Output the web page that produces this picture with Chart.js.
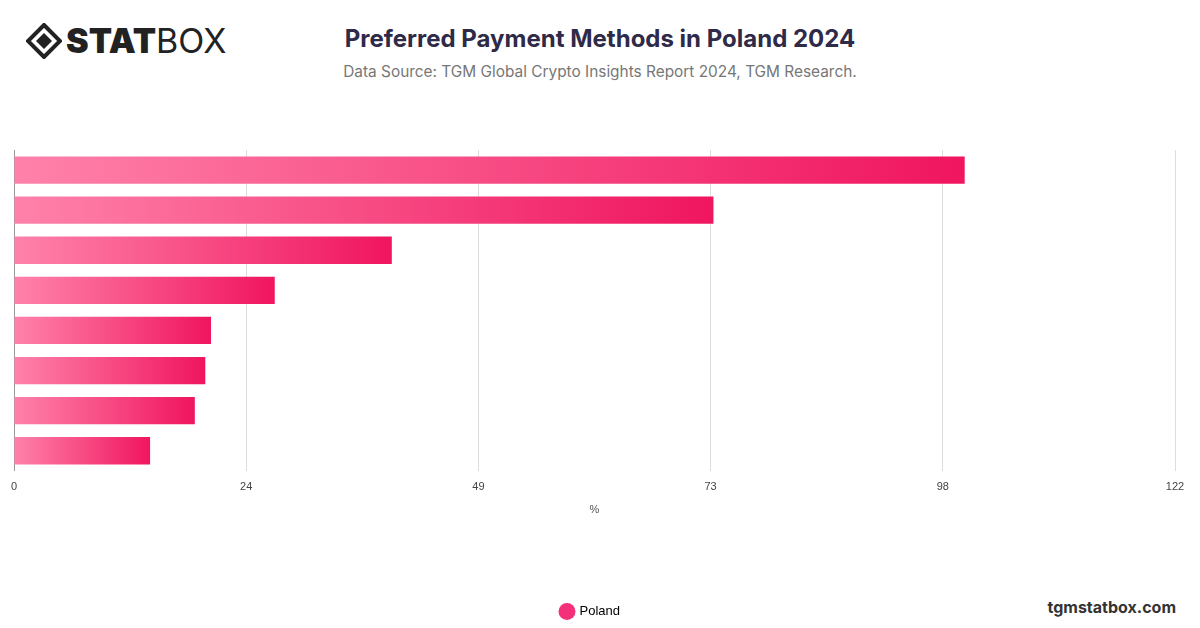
<!DOCTYPE html>
<html><head><meta charset="utf-8">
<script src="https://cdn.jsdelivr.net/npm/chart.js@4"></script>
<style>
body{margin:0;width:1200px;height:628px;background:#fff;font-family:Inter,"Open Sans",sans-serif;position:relative;overflow:hidden}
#logo{position:absolute;left:26px;top:20px;font-size:34px;color:#222;letter-spacing:0px;display:flex;align-items:center}
#title{position:absolute;left:0;width:1200px;top:24px;text-align:center;font-size:24px;font-weight:700;color:#2e2a48}
#sub{position:absolute;left:0;width:1200px;top:62px;text-align:center;font-size:15.4px;color:#777}
#site{position:absolute;right:24px;top:597px;font-size:16px;font-weight:700;color:#333}
#wrap{position:absolute;left:0;top:130px;width:1200px;height:498px}
</style></head><body>
<div id="logo"><svg width="36" height="36" viewBox="0 0 36 36"><path d="M18 2 L34 18 L18 34 L2 18 Z" fill="none" stroke="#222" stroke-width="4"/><path d="M18 10 L26 18 L18 26 L10 18 Z" fill="#222"/></svg><span style="font-weight:900;margin-left:4px">STAT</span><span style="font-weight:400">BOX</span></div>
<div id="title">Preferred Payment Methods in Poland 2024</div>
<div id="sub">Data Source: TGM Global Crypto Insights Report 2024, TGM Research.</div>
<div id="site">tgmstatbox.com</div>
<div id="wrap"><canvas id="c"></canvas></div>
<script>
const categories = ['Method 1','Method 2','Method 3','Method 4','Method 5','Method 6','Method 7','Method 8'];
const values = [99.9, 73.5, 39.7, 27.4, 20.7, 20.1, 19.0, 14.3];
const tickValues = [0, 24.4, 48.8, 73.2, 97.6, 122];

function barFill(ctx) {
  const chart = ctx.chart;
  if (!chart.chartArea || !chart.scales.x) return '#f5226a';
  const x0 = chart.scales.x.getPixelForValue(0);
  const x1 = chart.scales.x.getPixelForValue(ctx.raw);
  const g = chart.ctx.createLinearGradient(x0, 0, x1, 0);
  g.addColorStop(0, '#ff82aa');
  g.addColorStop(1, '#f0155f');
  return g;
}

new Chart(document.getElementById('c'), {
  type: 'bar',
  data: {
    labels: categories,
    datasets: [{ label: 'Poland', data: values, backgroundColor: barFill,
      barPercentage: 0.68, categoryPercentage: 1 }]
  },
  options: {
    indexAxis: 'y', responsive: true, maintainAspectRatio: false, animation: false,
    layout: { padding: { left: 6, right: 25, top: 20, bottom: 0 } },
    scales: {
      x: { min: 0, max: 122,
        afterBuildTicks(s) { s.ticks = tickValues.map(v => ({ value: v })); },
        ticks: { callback: v => Math.round(v), color: '#444', font: { size: 11 }, maxRotation: 0, padding: 10 },
        grid: { color: '#ddd', drawTicks: false },
        border: { display: false },
        title: { display: true, text: '%', color: '#555', font: { size: 11, lineHeight: 1 }, padding: { top: 0, bottom: 80 } } },
      y: { ticks: { display: false }, grid: { display: false }, border: { color: '#999' } }
    },
    plugins: {
      legend: { position: 'bottom', labels: { usePointStyle: true, pointStyle: 'circle', boxWidth: 12, boxHeight: 12,
        color: '#333', font: { size: 13 }, generateLabels: c => [{ text: 'Poland', fillStyle: '#f5307a', strokeStyle: '#f5307a', pointStyle: 'circle', lineWidth: 0 }] } },
      tooltip: { enabled: false }
    }
  }
});
</script></body></html>
